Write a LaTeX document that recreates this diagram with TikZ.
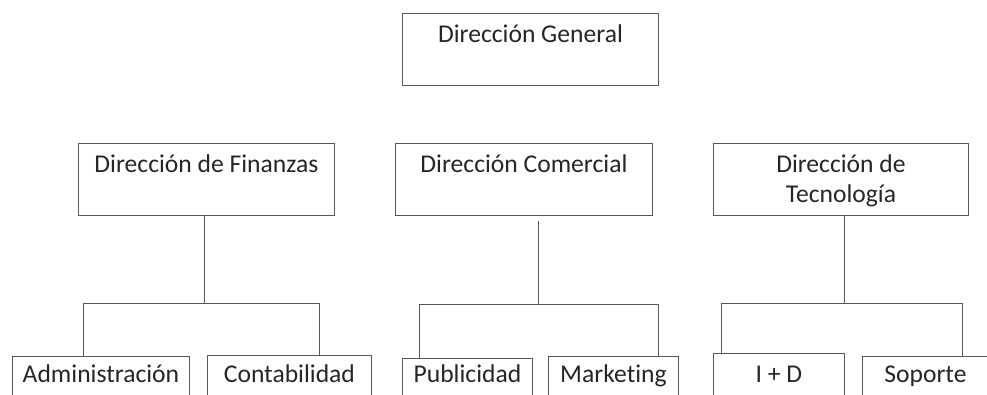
\documentclass[tikz,border=0pt]{standalone}
\usepackage{fontspec}
\setmainfont{Carlito}[Ligatures=NoCommon]
\begin{document}
\begin{tikzpicture}[x=1pt,y=-1pt,
  orgbox/.style={draw=black!65, line width=0.9pt, inner xsep=0pt, inner ysep=0pt,
    anchor=north west, align=center, text=black!85,
    font=\fontsize{25.6}{30}\selectfont},
  link/.style={draw=black!65, line width=0.9pt}]
\useasboundingbox (0,0) rectangle (987,394);
\begin{scope}
\clip (0,0) rectangle (987,394);
% top level
\node[orgbox, minimum width=256pt, text height=29pt, text depth=43pt] (dg) at (402,13) {Dirección General};
% second level
\node[orgbox, minimum width=256pt, text height=29pt, text depth=43pt] (fin) at (78,143) {Dirección de Finanzas};
\node[orgbox, minimum width=257pt, text height=29pt, text depth=43pt] (com) at (395,143) {Dirección Comercial};
% two-line box: the baseline is that of the last line
\node[orgbox, minimum width=255pt, text height=59pt, text depth=13pt] (tec) at (713,143) {Dirección de\\Tecnología};
% third level
\node[orgbox, minimum width=177pt, text height=26pt, text depth=46pt] (adm) at (12,356) {Administración};
\node[orgbox, minimum width=164pt, text height=27pt, text depth=45pt] (con) at (207,355) {Contabilidad};
\node[orgbox, minimum width=130pt, text height=24pt, text depth=48pt] (pub) at (402,358) {Publicidad};
\node[orgbox, minimum width=130pt, text height=26pt, text depth=46pt] (mkt) at (548,356) {Marketing};
\node[orgbox, minimum width=131pt, text height=29pt, text depth=43pt] (id) at (713,353) {I + D};
\node[orgbox, minimum width=126pt, text height=26pt, text depth=46pt] (sop) at (862,356) {Soporte};
% junction points
\coordinate (fj) at (204,303); \coordinate (fl) at (83,303); \coordinate (fr) at (319,303);
\coordinate (cj) at (538,304); \coordinate (cl) at (419,304); \coordinate (cr) at (658,304);
\coordinate (tj) at (844,303); \coordinate (tl) at (721,303); \coordinate (tr) at (962,303);
% connectors
\draw[link] (fin.south -| fj) -- (fj);
\draw[link] (adm.north -| fl) -- (fl) -- (fr) -- (con.north -| fr);
\draw[link] ([yshift=-5pt]com.south -| cj) -- (cj);
\draw[link] (pub.north -| cl) -- (cl) -- (cr) -- (mkt.north -| cr);
\draw[link] (tec.south -| tj) -- (tj);
\draw[link] (id.north -| tl) -- (tl) -- (tr) -- (sop.north -| tr);
\end{scope}
\end{tikzpicture}
\end{document}
